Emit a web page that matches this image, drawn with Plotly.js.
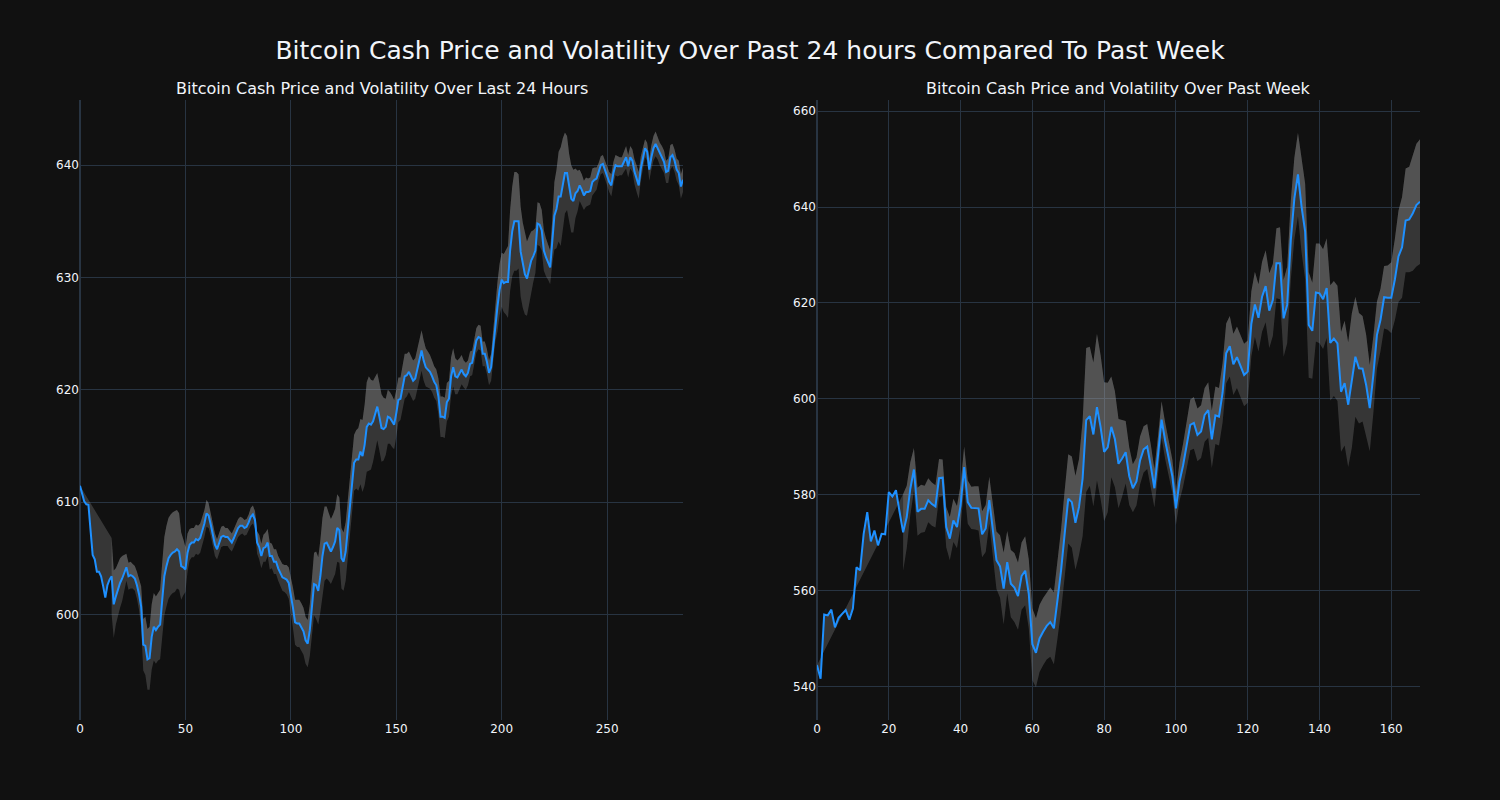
<!DOCTYPE html>
<html>
<head>
<meta charset="utf-8">
<script src="https://cdn.plot.ly/plotly-3.0.1.min.js"></script>
<style>html,body{margin:0;padding:0;background:#111111;}</style>
</head>
<body>
<div id="chart" style="width:1500px;height:800px;"></div>
<script>
// ---- Data: last 24 hours (5-minute steps) ----
const price24 = [
611.45,610.65,610.06,609.8,609.76,607.5,605.3,604.9,603.8,603.8,
603.4,602.5,601.5,602.6,603.1,603.4,600.9,601.6,602.3,602.8,
603.2,603.8,604.2,603.4,603.5,603.4,603.2,602.6,601.8,600.7,
597.3,597.2,596.0,596.1,598.0,598.9,598.6,598.9,599.1,601.3,
603.4,604.3,605.0,605.3,605.5,605.6,605.8,605.6,604.3,604.2,
604.0,605.5,606.2,606.4,606.4,606.7,606.6,606.8,607.4,608.1,
609.0,608.8,608.0,607.1,606.2,605.8,606.4,606.9,607.0,606.9,
606.9,606.6,606.4,606.8,607.2,607.7,607.9,607.9,607.7,607.8,
608.2,608.7,608.9,608.4,606.4,606.0,605.2,605.9,606.0,606.4,
605.2,605.2,604.7,604.7,604.1,603.7,603.3,603.2,603.1,602.8,
601.8,600.6,599.3,599.2,599.2,598.9,598.5,597.7,597.4,598.6,
600.6,602.7,602.6,602.1,603.4,605.2,606.3,606.4,606.0,605.6,
606.0,606.5,607.7,607.5,605.0,604.7,605.6,607.5,609.3,611.7,
613.5,613.8,613.8,614.5,614.1,615.1,616.7,617.0,616.9,617.2,
617.9,618.5,617.6,616.6,616.5,616.7,617.6,617.5,617.2,616.9,
617.9,619.1,619.2,620.3,621.2,621.3,621.6,621.2,620.8,621.0,
621.9,622.9,623.5,622.6,622.0,621.8,621.6,621.2,620.7,620.4,
619.4,617.6,617.6,617.5,618.9,619.2,621.2,622.0,621.2,621.1,
621.4,621.8,621.4,621.2,621.5,622.3,622.4,623.4,624.4,624.7,
624.6,623.2,623.2,622.5,621.5,622.0,623.8,626.2,627.4,628.9,
629.8,629.5,629.6,629.6,632.4,634.1,635.0,635.0,635.0,632.3,
631.1,630.3,629.9,630.7,631.5,631.9,632.4,634.8,634.7,634.2,
632.4,631.8,631.4,630.9,633.2,635.5,636.1,637.2,637.2,638.4,
639.3,639.3,637.9,637.0,636.8,637.5,637.7,638.2,637.8,637.3,
637.6,637.6,637.7,638.5,638.7,638.8,639.4,640.0,640.1,639.6,
639.1,638.5,638.2,639.3,640.0,639.9,639.9,639.9,640.3,640.7,
639.9,640.7,640.4,639.4,638.8,638.2,639.7,640.7,641.5,641.2,
639.6,640.7,641.5,641.9,641.5,641.0,640.7,640.3,639.4,639.5,
640.7,640.9,640.4,639.6,639.3,638.1,638.7
];
// volatility half-width of the band, from index bandStart24 onward
const bandStart24 = 15;
const vol24 = [
3.4,3.0,2.5,2.3,2.2,2.0,
1.5,1.2,1.2,1.2,1.1,1.1,1.2,1.4,1.8,
2.3,2.6,2.7,2.8,2.9,3.0,3.0,3.0,3.1,
3.3,3.5,3.6,3.6,3.6,3.6,3.6,3.5,3.4,
3.0,2.5,2.0,1.7,1.4,1.3,1.3,1.3,
1.3,1.3,1.3,1.2,1.2,
1.1,1.0,1.0,1.0,0.9,0.9,0.9,0.9,0.8,0.8,0.8,
0.8,0.8,0.8,0.8,0.8,0.7,0.7,0.7,0.7,0.8,0.8,0.8,
1.0,1.1,1.1,1.2,1.3,1.2,1.2,1.1,1.1,1.1,1.1,1.2,1.2,1.2,1.3,1.4,
1.6,1.8,2.0,2.1,2.1,2.1,2.1,2.1,2.1,2.3,
2.5,2.8,3.0,3.0,3.2,3.4,3.3,3.2,3.0,
2.9,2.9,2.9,3.0,2.9,2.7,2.6,2.6,2.6,
2.6,2.6,2.5,2.6,2.8,2.9,3.2,3.6,4.0,4.2,4.0,3.6,3.3,3.0,3.0,
3.0,2.8,2.5,2.4,2.3,2.3,2.2,2.1,
2.0,1.9,1.9,2.0,1.9,1.8,1.8,1.8,1.8,1.8,1.8,1.8,1.8,
1.7,1.6,1.5,1.4,1.4,1.4,1.6,1.8,1.8,1.8,1.7,1.6,
1.7,1.7,1.6,1.5,1.4,1.3,1.2,1.2,1.1,1.1,1.1,1.1,1.1,1.1,1.1,1.1,1.1,1.1,1.1,1.2,
1.5,1.9,2.2,2.3,2.4,2.6,2.9,3.2,3.6,4.0,4.4,4.4,4.2,4.0,3.8,3.6,3.3,3.0,2.6,2.3,
2.0,1.9,1.9,1.8,1.8,1.7,1.6,1.5,2.0,
3.0,3.5,4.0,4.4,4.0,3.6,3.3,3.1,3.0,2.8,
2.2,1.8,1.4,1.4,1.3,1.3,1.2,1.2,1.2,1.1,1.0,
0.8,0.8,0.8,0.8,0.9,0.9,1.0,1.0,0.9,0.9,0.8,0.8,0.9,1.0,1.0,1.0,1.0,1.1,1.2,1.2,1.1,1.0,0.8,0.8,1.0,1.1,1.1,1.1,1.0,1.0,1.0,1.0,1.0,1.1,1.1,1.0,1.0,1.0,1.1,1.1,1.1
];

// ---- Data: past week (hourly) ----
const priceWeek = [
544.5,541.7,555.1,554.9,556.1,552.4,554.4,555.1,556.0,554.0,
556.3,564.9,564.3,571.9,576.4,570.3,572.6,569.5,571.9,571.8,
580.6,579.7,581.0,576.5,572.2,575.4,581.3,585.3,576.5,577.1,
577.1,578.9,578.1,577.6,583.5,583.6,573.3,570.9,574.7,573.3,
577.8,585.8,578.5,577.3,577.3,577.2,571.8,573.0,578.9,572.3,
566.4,565.1,560.5,566.0,561.5,560.7,558.9,563.1,564.2,559.4,
548.9,547.1,550.1,551.5,552.7,553.5,552.2,558.1,564.3,571.9,
579.2,578.5,574.2,577.5,583.4,595.6,596.4,592.6,598.3,594.2,
589.0,589.9,594.2,591.6,586.5,587.6,588.9,583.9,581.4,582.8,
587.2,589.5,590.1,586.0,581.4,588.2,595.7,591.3,587.5,583.9,
577.2,582.8,586.2,590.7,594.6,595.0,592.5,593.2,596.7,597.7,
591.6,596.6,596.3,601.3,609.5,611.0,607.2,608.7,606.9,605.0,
605.7,615.6,619.7,616.9,621.3,623.5,618.4,620.6,628.3,628.3,
616.8,619.6,633.1,641.8,646.8,640.1,634.9,615.4,614.2,622.2,
622.0,620.8,623.1,611.7,612.6,611.6,601.5,603.3,598.8,603.8,
608.8,606.4,606.3,602.9,598.1,605.0,613.3,616.5,621.2,621.1,
621.1,624.9,629.7,631.6,637.2,637.4,638.7,640.4,641.1
];
const bandStartWeek = 24;
const volWeek = [
8,6.5,5.5,4.5,
5,5,4.8,4.6,4.5,4.4,4,3.8,
4.2,4.5,4.5,4.4,4.3,
4.3,4.5,4.4,4.5,4.6,4.8,4.9,4.9,5.5,
6,6.5,7.5,6.5,7,7.2,7,7,7.2,7.2,
7.5,7.2,7,7,7,7.2,7.5,8,8.5,9,
9.3,9.5,9.8,10,12,
15,14.5,15,15.3,15,
14.5,13.5,10.5,10,9.3,8,6.5,6,5,5,
5,4.8,4.7,4.5,4,4,3.8,3.8,3.6,3.5,
3.5,4,4.5,5,5.3,5.4,5.5,5.5,5.6,5.8,
6,6,6,6.2,6.2,6.3,6.4,6.4,6.4,6.5,
6.5,6.8,6.8,7,7.3,7.5,7.8,7.5,7.3,7.5,8,8,
8.2,8.5,8.7,9.5,10,11,
10,10.2,10.4,10.4,10.4,
12,12,12,12.5,13,13,14,12.5,11.5,11,10.5,9,8,
7,6.5,6.5,6.7,7.4,
8.5,9.5,10.5,10.8,11,12,12.8,13
];

const mainTitle = 'Bitcoin Cash Price and Volatility Over Past 24 hours Compared To Past Week';
const leftTitle = 'Bitcoin Cash Price and Volatility Over Last 24 Hours';
const rightTitle = 'Bitcoin Cash Price and Volatility Over Past Week';

// ---- Build traces ----
const FILL = 'rgba(169,169,169,0.25)';
const LINE = '#1E90FF';

function panel(price, vol, start, xa, ya) {
  const x = price.map((_, i) => i);
  const bx = x.slice(start);
  const upper = bx.map((xi, k) => price[xi] + vol[k]);
  const lower = bx.map((xi, k) => price[xi] - vol[k]);
  return [
    {x: x, y: price, mode: 'lines', line: {width: 0, color: LINE}, xaxis: xa, yaxis: ya, hoverinfo: 'skip'},
    {x: bx, y: upper, mode: 'lines', line: {width: 0, color: 'gray'}, fill: 'tonexty', fillcolor: FILL, xaxis: xa, yaxis: ya},
    {x: bx, y: lower, mode: 'lines', line: {width: 0, color: 'gray'}, fill: 'tonexty', fillcolor: FILL, xaxis: xa, yaxis: ya},
    {x: x, y: price, mode: 'lines', line: {width: 2, color: LINE}, xaxis: xa, yaxis: ya}
  ];
}

const data = panel(price24, vol24, bandStart24, 'x', 'y')
  .concat(panel(priceWeek, volWeek, bandStartWeek, 'x2', 'y2'));

const axisStyle = {showline: false, gridcolor: '#283442', zeroline: true, zerolinecolor: '#283442', zerolinewidth: 2, ticks: '', tickfont: {size: 12}};

const layout = {
  width: 1500, height: 800,
  paper_bgcolor: '#111111', plot_bgcolor: '#111111',
  font: {family: '"DejaVu Sans", Verdana, sans-serif', color: '#f2f5fa', size: 12},
  title: {text: mainTitle, font: {size: 25}, x: 0.5, xanchor: 'center', xref: 'container', y: 0.9375, yanchor: 'middle', yref: 'container'},
  margin: {l: 80, r: 80, t: 100, b: 80},
  showlegend: false,
  xaxis: Object.assign({domain: [0, 0.45], range: [0, 286], anchor: 'y'}, axisStyle),
  yaxis: Object.assign({range: [590.6, 645.8], anchor: 'x'}, axisStyle),
  xaxis2: Object.assign({domain: [0.55, 1], range: [0, 168], anchor: 'y2'}, axisStyle),
  yaxis2: Object.assign({range: [533.1, 662.3], anchor: 'x2'}, axisStyle),
  annotations: [
    {text: leftTitle, x: 0.225, y: 1, xref: 'paper', yref: 'paper', xanchor: 'center', yanchor: 'bottom', showarrow: false, font: {size: 16}},
    {text: rightTitle, x: 0.775, y: 1, xref: 'paper', yref: 'paper', xanchor: 'center', yanchor: 'bottom', showarrow: false, font: {size: 16}}
  ]
};

Plotly.newPlot('chart', data, layout, {displayModeBar: false, staticPlot: true});
</script>
</body>
</html>
